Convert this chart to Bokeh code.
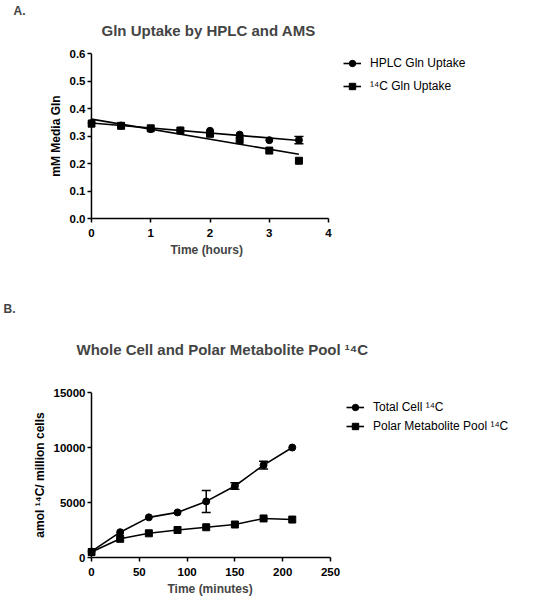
import numpy as np
from bokeh.plotting import figure
from bokeh.layouts import column
from bokeh.models import (FixedTicker, NumeralTickFormatter, Whisker, TeeHead, Span, Title,
                          ColumnDataSource, Legend, LegendItem, Range1d)
from bokeh.embed import file_html
from bokeh.resources import INLINE

FONT = "Liberation Sans"

# ---------------- Panel A data ----------------
a_time = [0, 0.5, 1, 1.5, 2, 2.5, 3, 3.5]
a_hplc = [0.347, 0.338, 0.325, 0.320, 0.319, 0.305, 0.285, 0.285]
a_hplc_err = [0, 0, 0, 0, 0, 0, 0, 0.013]
a_c14 = [0.345, 0.337, 0.328, 0.320, 0.308, 0.285, 0.247, 0.210]
a_xticks = [0, 1, 2, 3, 4]
a_yticks = [0.0, 0.1, 0.2, 0.3, 0.4, 0.5, 0.6]
a_labels = ["HPLC Gln Uptake", "\u00b9\u2074C Gln Uptake"]

# ---------------- Panel B data ----------------
b_time = [0, 30, 60, 90, 120, 150, 180, 210]
b_total = [550, 2300, 3650, 4100, 5100, 6500, 8400, 10000]
b_total_err = [0, 0, 0, 0, 1000, 300, 350, 0]
b_polar = [500, 1700, 2200, 2500, 2750, 3000, 3550, 3450]
b_xticks = [0, 50, 100, 150, 200, 250]
b_yticks = [0, 5000, 10000, 15000]
b_labels = ["Total Cell \u00b9\u2074C", "Polar Metabolite Pool \u00b9\u2074C"]


def style(p, xticks, yticks, yfmt, xbounds):
    p.grid.visible = False
    p.outline_line_color = None
    for ax in (p.xaxis[0], p.yaxis[0]):
        ax.axis_line_width = 1.5
        ax.axis_line_color = "black"
        ax.major_tick_line_width = 1.5
        ax.major_tick_line_color = "black"
        ax.major_tick_out = 4
        ax.major_tick_in = 0
        ax.minor_tick_line_color = None
        ax.major_label_text_font = FONT
        ax.major_label_text_font_style = "bold"
        ax.major_label_text_font_size = "11.5px"
        ax.major_label_text_color = "black"
        ax.axis_label_text_font = FONT
        ax.axis_label_text_font_style = "bold"
        ax.axis_label_text_font_size = "12px"
        ax.axis_label_text_color = "black"
        ax.major_label_standoff = 2
        ax.axis_label_standoff = 4
    p.xaxis[0].major_label_standoff = 6
    p.xaxis[0].ticker = FixedTicker(ticks=xticks)
    p.yaxis[0].ticker = FixedTicker(ticks=yticks)
    p.yaxis[0].formatter = NumeralTickFormatter(format=yfmt)
    p.xaxis[0].formatter = NumeralTickFormatter(format="0")
    p.xaxis[0].bounds = xbounds
    # y axis line drawn at x = 0 (frame edge sits a few px left of it)
    p.yaxis[0].axis_line_color = None
    p.yaxis[0].major_tick_in = 4
    p.yaxis[0].major_tick_out = 0
    p.add_layout(Span(location=0, dimension="height", line_color="black", line_width=1.5))


def whiskers(p, x, y, err):
    xs = [xi for xi, e in zip(x, err) if e > 0]
    up = [yi + e for yi, e in zip(y, err) if e > 0]
    lo = [yi - e for yi, e in zip(y, err) if e > 0]
    src = ColumnDataSource(dict(x=xs, upper=up, lower=lo))
    w = Whisker(source=src, base="x", upper="upper", lower="lower",
                line_width=1.5, line_color="black",
                upper_head=TeeHead(size=9, line_width=1.5, line_color="black"),
                lower_head=TeeHead(size=9, line_width=1.5, line_color="black"))
    p.add_layout(w)


def legend(p, items, loc, spacing):
    lg = Legend(items=items, location=loc, padding=0, margin=0,
                border_line_color=None, background_fill_alpha=0,
                label_text_font=FONT, label_text_font_size="12px",
                label_text_color="black", glyph_width=18, glyph_height=16,
                label_height=16, label_standoff=9, spacing=spacing)
    p.add_layout(lg)


def titles(p, text, standoff, offset, tag, tag_standoff, tag_offset,
           xlabel, xl_offset, xl_standoff):
    # outer title: panel tag
    p.title.text = tag
    p.title.align = "left"
    p.title.text_font = FONT
    p.title.text_font_style = "bold"
    p.title.text_font_size = "12px"
    p.title.standoff = tag_standoff
    p.title.offset = tag_offset
    # inner title: chart title
    p.add_layout(Title(text=text, align="left", text_font=FONT, text_font_style="bold",
                       text_font_size="15px", standoff=standoff, offset=offset), "above")
    # x axis label
    p.add_layout(Title(text=xlabel, align="left", text_font=FONT, text_font_style="bold",
                       text_font_size="12px", standoff=xl_standoff, offset=xl_offset), "below")


# ---------------- Panel A ----------------
pa = figure(width=545, height=262, x_range=Range1d(-0.067, 7.66),
            y_range=Range1d(0, 0.6), output_backend="svg",
            toolbar_location=None, min_border_left=85, min_border_right=0,
            min_border_top=53, min_border_bottom=44)
style(pa, a_xticks, a_yticks, "0.0", (0, 4))
pa.yaxis.axis_label = "mM Media Gln"
titles(pa, "Gln Uptake by HPLC and AMS", 29, 14, "A.", -24, -74, "Time (hours)", 83, 3)

k1 = np.polyfit(a_time, a_hplc, 1)
k2 = np.polyfit(a_time, a_c14, 1)
fx = [a_time[0], a_time[-1]]
l1 = pa.line(fx, list(np.polyval(k1, fx)), line_color="black", line_width=1.6)
l2 = pa.line(fx, list(np.polyval(k2, fx)), line_color="black", line_width=1.6)
whiskers(pa, a_time, a_hplc, a_hplc_err)
s1 = pa.scatter(a_time, a_hplc, marker="circle", size=7, color="black")
s2 = pa.scatter(a_time, a_c14, marker="square", size=7, color="black")
legend(pa, [LegendItem(label=a_labels[0], renderers=[l1, s1]),
            LegendItem(label=a_labels[1], renderers=[l2, s2])], (256, 124), 7)

# ---------------- Panel B ----------------
pb = figure(width=545, height=338, x_range=Range1d(-4.18, 474.9),
            y_range=Range1d(0, 15000), output_backend="svg",
            toolbar_location=None, min_border_left=87, min_border_right=0,
            min_border_top=130, min_border_bottom=43)
style(pb, b_xticks, b_yticks, "0", (0, 250))
pb.yaxis.axis_label = "amol \u00b9\u2074C/ million cells"
titles(pb, "Whole Cell and Polar Metabolite Pool \u00b9\u2074C", 70, -11, "B.", -24, -84,
       "Time (minutes)", 80, 3)

whiskers(pb, b_time, b_total, b_total_err)
t1 = pb.line(b_time, b_total, line_color="black", line_width=1.6)
t2 = pb.line(b_time, b_polar, line_color="black", line_width=1.6)
m1 = pb.scatter(b_time, b_total, marker="circle", size=7, color="black")
m2 = pb.scatter(b_time, b_polar, marker="square", size=7, color="black")
legend(pb, [LegendItem(label=b_labels[0], renderers=[t1, m1]),
            LegendItem(label=b_labels[1], renderers=[t2, m2])], (259, 123), 3)

layout = column(pa, pb, spacing=0)
open("out.html", "w").write(file_html(layout, INLINE))
